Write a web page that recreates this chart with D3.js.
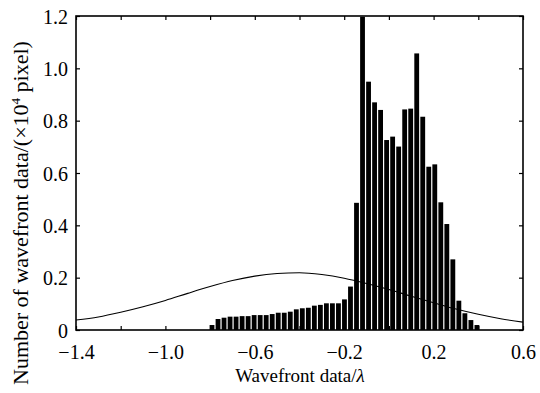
<!DOCTYPE html>
<html>
<head>
<meta charset="utf-8">
<script src="https://cdn.jsdelivr.net/npm/d3@7/dist/d3.min.js"></script>
<style>
  html, body { margin: 0; padding: 0; background: #fff; }
  svg text { font-family: "Liberation Serif", "DejaVu Serif", serif; fill: #000; }
</style>
</head>
<body>
<div id="chart"></div>
<script>
// histogram bins: first bin center and width (in wavelengths)
const binStart = -0.7915;
const binWidth = 0.02694;
// bar heights, x10^4 pixels
const counts = [
  0.019, 0.042, 0.047, 0.051, 0.051, 0.053, 0.053, 0.057, 0.057, 0.057,
  0.061, 0.066, 0.066, 0.070, 0.079, 0.083, 0.085, 0.093, 0.096, 0.102,
  0.102, 0.102, 0.117, 0.166, 0.486, 1.197, 0.949, 0.870, 0.841, 0.726,
  0.739, 0.701, 0.843, 0.846, 1.057, 0.815, 0.624, 0.633, 0.488, 0.405,
  0.270, 0.112, 0.064, 0.038, 0.019
];
// fitted curve samples
const curveX = [-1.4, -1.3, -1.2, -1.1, -1.0, -0.9, -0.8, -0.7, -0.6, -0.5, -0.4,
                -0.3, -0.2, -0.1, 0.0, 0.1, 0.2, 0.3, 0.4, 0.5, 0.6];
const curveY = [0.038, 0.050, 0.068, 0.089, 0.113, 0.140, 0.166, 0.189, 0.206, 0.216, 0.219,
                0.212, 0.198, 0.178, 0.155, 0.129, 0.104, 0.080, 0.060, 0.043, 0.030];

const xTicks = [-1.4, -1.2, -1.0, -0.8, -0.6, -0.4, -0.2, 0, 0.2, 0.4, 0.6];
const xLabels = [-1.4, -1.0, -0.6, -0.2, 0.2, 0.6];
const yTicks = [0, 0.2, 0.4, 0.6, 0.8, 1.0, 1.2];

const width = 540, height = 393;
const margin = { top: 16, right: 17, bottom: 63, left: 76 };
const iw = width - margin.left - margin.right;
const ih = height - margin.top - margin.bottom;

const svg = d3.select('#chart').append('svg')
  .attr('width', width).attr('height', height);
const g = svg.append('g').attr('transform', `translate(${margin.left},${margin.top})`);

const x = d3.scaleLinear().domain([-1.4, 0.6]).range([0, iw]);
const y = d3.scaleLinear().domain([0, 1.2]).range([ih, 0]);

const bars = counts.map((v, i) => ({ c: binStart + i * binWidth, v }));
const bw = (x(binWidth) - x(0)) * 0.8;

g.selectAll('rect.bar')
  .data(bars)
  .enter().append('rect')
  .attr('class', 'bar')
  .attr('x', d => x(d.c) - bw / 2)
  .attr('y', d => y(d.v))
  .attr('width', bw)
  .attr('height', d => y(0) - y(d.v))
  .attr('fill', '#000');

const line = d3.line()
  .x(d => x(d[0])).y(d => y(d[1]))
  .curve(d3.curveMonotoneX);

g.append('path')
  .datum(d3.zip(curveX, curveY))
  .attr('d', line)
  .attr('fill', 'none')
  .attr('stroke', '#000')
  .attr('stroke-width', 1.1);

const fmt = d => d3.format('.1f')(d).replace('-', '\u2212');
const fmtY = d => d === 0 ? '0' : d3.format('.1f')(d);

// axes with inward ticks
g.append('g').attr('transform', `translate(0,${ih})`)
  .call(d3.axisBottom(x).tickValues(xTicks).tickSize(-4)
    .tickFormat(d => xLabels.some(l => Math.abs(l - d) < 1e-9) ? fmt(d) : ''))
  .call(a => a.selectAll('text').attr('dy', '1.3em'));
g.append('g')
  .call(d3.axisTop(x).tickValues(xTicks).tickSize(-4).tickFormat(''));
g.append('g')
  .call(d3.axisLeft(y).tickValues(yTicks).tickSize(-4).tickFormat(fmtY))
  .call(a => a.selectAll('text').attr('x', -8).attr('dy', '0.35em'));
g.append('g').attr('transform', `translate(${iw},0)`)
  .call(d3.axisRight(y).tickValues(yTicks).tickSize(-4).tickFormat(''));

g.selectAll('.domain').remove();
g.selectAll('.tick line').attr('stroke', '#000').attr('stroke-width', 1.2);
g.selectAll('.tick text').style('font-size', '20px');

g.append('rect')
  .attr('width', iw).attr('height', ih)
  .attr('fill', 'none').attr('stroke', '#000').attr('stroke-width', 1.6);

// axis titles
const xt = svg.append('text')
  .attr('x', 300).attr('y', 382)
  .attr('text-anchor', 'middle')
  .style('font-size', '19px');
xt.append('tspan').text('Wavefront data/');
xt.append('tspan').style('font-style', 'italic').text('λ');

const yt = svg.append('text')
  .attr('transform', 'translate(28,385) rotate(-90)')
  .attr('text-anchor', 'start')
  .style('font-size', '22px');
yt.append('tspan').text('Number of wavefront data/(×10');
yt.append('tspan').attr('dy', -8).style('font-size', '13px').text('4');
yt.append('tspan').attr('dy', 8).text(' pixel)');
</script>
</body>
</html>
